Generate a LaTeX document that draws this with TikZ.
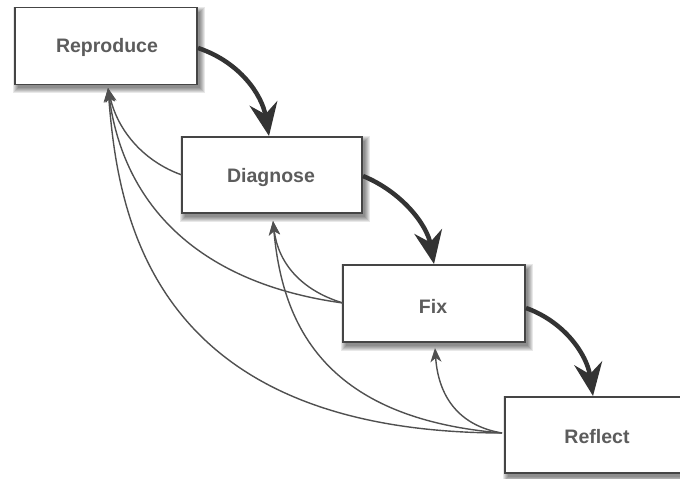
\documentclass[tikz,border=0pt]{standalone}
\usepackage{fontspec}
\setmainfont{Liberation Sans}
\usetikzlibrary{arrows.meta,backgrounds}
\definecolor{boxline}{HTML}{454545}
\definecolor{txt}{HTML}{5C5C5C}
\definecolor{heavy}{HTML}{333333}
\definecolor{thin}{HTML}{505050}
\tikzset{
  stepbox/.style={draw=boxline, line width=1.8pt, fill=white, minimum width=182pt, minimum height=77pt, inner sep=0pt},
  lbl/.style={text=txt, font=\bfseries\fontsize{19.5}{24}\selectfont},
  heavyarrow/.style={draw=heavy, line width=4.5pt, -{Stealth[length=33pt,width=28pt,inset=11pt]}},
  backarrow/.style={draw=thin, line width=1.4pt, -{Stealth[length=14pt,width=11pt,inset=4pt]}},
  shadowlayer/.style={fill=black, opacity=0.09}
}
\begin{document}
\begin{tikzpicture}[x=1pt,y=-1pt]
\clip (0,0) rectangle (680,479);
\node[stepbox] (rep) at (106,46) {};
\node[stepbox, minimum width=180pt, minimum height=76pt] (dia) at (272,175) {};
\node[stepbox] (fix) at (434,303.5) {};
\node[stepbox, minimum width=190pt, minimum height=76pt] (ref) at (600,435) {};
\begin{scope}[on background layer]
\fill[white] (0,0) rectangle (680,479);
\foreach \n in {rep,dia,fix,ref}{
  \foreach \k in {0,1,2,3,4,5}{
    \fill[shadowlayer] ([xshift=4pt-\k pt, yshift=-5pt+\k pt]\n.north west) rectangle ([xshift=2pt+\k pt, yshift=-3pt-\k pt]\n.south east);
  }
}
\end{scope}
\node[lbl] (trep) at (107,47) {Reproduce};
\node[lbl] (tdia) at (271,177) {Diagnose};
\node[lbl] (tfix) at (433,306) {Fix};
\node[lbl] (tref) at (597,437) {Reflect};
% anchor coordinates
\coordinate (repE) at (198,48);
\coordinate (repB) at (108,88);
\coordinate (diaT) at (269,136);
\coordinate (diaE) at (363,176);
\coordinate (diaL) at (182,175);
\coordinate (diaB) at (273,221);
\coordinate (fixT) at (434,264);
\coordinate (fixE) at (526,308);
\coordinate (fixL) at (343,303);
\coordinate (fixB) at (435,348);
\coordinate (refT) at (593,396);
\coordinate (refL) at (502,433);
% heavy forward arrows
\draw[heavyarrow] (repE) .. controls (240,62) and (262,95) .. (diaT);
\draw[heavyarrow] (diaE) .. controls (402,192) and (427,225) .. (fixT);
\draw[heavyarrow] (fixE) .. controls (565,322) and (587,355) .. (refT);
% thin backward arrows
\draw[backarrow] (diaL) .. controls (145,162) and (118,132) .. (repB);
\draw[backarrow] (fixL) .. controls (210,285) and (125,215) .. (repB);
\draw[backarrow] (refL) .. controls (150,432) and (118,215) .. (repB);
\draw[backarrow] (fixL) .. controls (300,290) and (278,262) .. (diaB);
\draw[backarrow] (refL) .. controls (320,418) and (282,320) .. (diaB);
\draw[backarrow] (refL) .. controls (455,425) and (438,392) .. (fixB);
\end{tikzpicture}
\end{document}
